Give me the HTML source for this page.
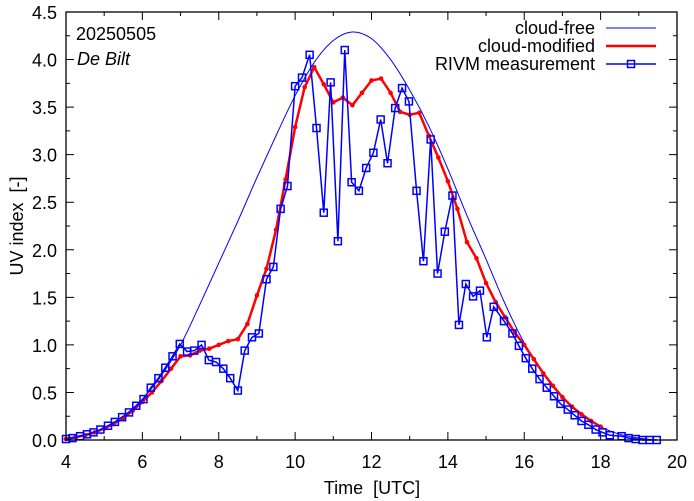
<!DOCTYPE html>
<html><head><meta charset="utf-8"><style>
body{margin:0;background:#fff}
svg{display:block;font-family:"Liberation Sans",sans-serif}
</style></head><body>
<svg id="chart" width="694" height="501" viewBox="0 0 694 501" xmlns="http://www.w3.org/2000/svg">
<g id="grid"></g>
<g id="series"></g>
<rect x="66" y="12" width="611" height="428" fill="none" stroke="#000" stroke-width="1.3"/>
<text x="76" y="40" font-size="18">20250505</text>
<text x="77" y="65" font-size="18" font-style="italic">De Bilt</text>
<text x="372" y="494" font-size="18" text-anchor="middle">Time&#160;&#160;[UTC]</text>
<text transform="translate(23,226) rotate(-90)" font-size="18" text-anchor="middle">UV index&#160;&#160;[-]</text>
<g>
<text x="595" y="34" font-size="18" text-anchor="end">cloud-free</text>
<line x1="606" y1="28" x2="656" y2="28" stroke="#0000ff" stroke-width="1"/>
<text x="595" y="52" font-size="18" text-anchor="end">cloud-modified</text>
<line x1="606" y1="46" x2="656" y2="46" stroke="#ff0000" stroke-width="2.5"/>
<text x="595" y="70" font-size="18" text-anchor="end">RIVM measurement</text>
<line x1="606" y1="64" x2="656" y2="64" stroke="#0000ff" stroke-width="1.5"/>
<rect x="627.5" y="60.5" width="7" height="7" fill="none" stroke="#0000ff" stroke-width="1.5"/>
</g>
</svg>
<script>
const clearTimes=[4,4.5,5,5.5,6,6.5,7,7.5,8,8.5,9,9.5,10,10.5,11,11.5,12,12.5,13,13.5,14,14.5,15,15.5,16,16.5,17,17.5,18,18.5,19,19.5,19.75];
const clearVals=[0.01,0.05,0.13,0.25,0.43,0.68,1.0,1.42,1.86,2.3,2.76,3.2,3.62,3.97,4.2,4.29,4.22,4.0,3.68,3.3,2.85,2.36,1.9,1.43,1.02,0.7,0.45,0.27,0.14,0.06,0.02,0.0,0.0];
const modTimes=[4,4.25,4.5,4.75,5,5.25,5.5,5.75,6,6.25,6.5,6.75,7,7.25,7.5,7.75,8,8.25,8.5,8.75,9,9.25,9.5,9.75,10,10.25,10.5,10.75,11,11.25,11.5,11.75,12,12.25,12.5,12.75,13,13.25,13.5,13.75,14,14.25,14.5,14.75,15,15.25,15.5,15.75,16,16.25,16.5,16.75,17,17.25,17.5,17.75,18];
const modVals=[0.01,0.03,0.05,0.08,0.12,0.17,0.23,0.31,0.4,0.5,0.62,0.75,0.88,0.89,0.94,0.96,1.0,1.04,1.06,1.22,1.52,1.8,2.21,2.74,3.29,3.71,3.92,3.74,3.55,3.6,3.52,3.65,3.78,3.8,3.65,3.45,3.42,3.44,3.2,2.97,2.72,2.43,2.08,1.91,1.65,1.45,1.29,1.13,1.0,0.85,0.7,0.57,0.45,0.35,0.27,0.2,0.14];
const measTimes=[4.0,4.17,4.37,4.55,4.72,4.9,5.1,5.28,5.47,5.65,5.84,6.03,6.22,6.42,6.6,6.79,6.98,7.17,7.36,7.55,7.74,7.93,8.12,8.3,8.5,8.68,8.87,9.05,9.25,9.43,9.62,9.8,10.0,10.18,10.38,10.56,10.75,10.93,11.12,11.3,11.48,11.67,11.86,12.05,12.24,12.42,12.62,12.8,12.98,13.18,13.36,13.55,13.73,13.92,14.12,14.29,14.47,14.66,14.84,15.02,15.2,15.47,15.69,15.86,16.04,16.21,16.4,16.59,16.78,16.95,17.14,17.32,17.5,17.68,17.87,18.05,18.24,18.55,18.73,18.92,19.1,19.28,19.47];
const measVals=[0.01,0.02,0.04,0.06,0.08,0.11,0.15,0.19,0.24,0.29,0.36,0.43,0.55,0.65,0.76,0.88,1.01,0.93,0.94,1.0,0.84,0.82,0.75,0.65,0.52,0.94,1.08,1.12,1.69,1.82,2.43,2.67,3.72,3.81,4.05,3.28,2.39,3.76,2.09,4.1,2.71,2.62,2.86,3.02,3.37,2.91,3.49,3.7,3.56,2.62,1.88,3.16,1.75,2.19,2.57,1.21,1.64,1.51,1.57,1.08,1.4,1.25,1.12,0.99,0.86,0.75,0.64,0.55,0.46,0.38,0.32,0.26,0.2,0.16,0.11,0.08,0.05,0.04,0.02,0.01,0.0,0.0,0.0];
const xTicks=[4,6,8,10,12,14,16,18,20];
const yTicks=[0,0.5,1,1.5,2,2.5,3,3.5,4,4.5];

const NS="http://www.w3.org/2000/svg";
const X0=66,X1=677,Y0=440,Y1=12;
function xs(t){return X0+(t-4)/16*(X1-X0);}
function ys(v){return Y0-v/4.5*(Y0-Y1);}
function mk(tag,attrs,parent){const e=document.createElementNS(NS,tag);for(const k in attrs)e.setAttribute(k,attrs[k]);parent.appendChild(e);return e;}
const grid=document.getElementById('grid'),ser=document.getElementById('series');
for(let h=4;h<=20;h++){
  const L=h%2===0?8:4;
  let t=mk('path',{d:`M${xs(h)},${Y0}v${-L}M${xs(h)},${Y1}v${L}`,stroke:'#000','stroke-width':1},grid);
  
  
}
for(let i=0;i<=18;i++){
  const v=i*0.25,L=i%2===0?8:4;
  let t=mk('path',{d:`M${X0},${ys(v)}h${L}M${X1},${ys(v)}h${-L}`,stroke:'#000','stroke-width':1},grid);
  
  
}
xTicks.forEach(h=>{
  const t=mk('text',{x:xs(h),y:468,'font-size':18,'text-anchor':'middle'},grid);t.textContent=h;
  
  
});
yTicks.forEach(v=>{
  const t=mk('text',{x:57,y:ys(v)+7,'font-size':18,'text-anchor':'end'},grid);t.textContent=v.toFixed(1);
  
  
});
const P=clearTimes.map((t,i)=>[xs(t),ys(clearVals[i])]);
let d=`M${P[0][0]},${P[0][1]}`;
for(let i=0;i<P.length-1;i++){
  const p0=P[Math.max(0,i-1)],p1=P[i],p2=P[i+1],p3=P[Math.min(P.length-1,i+2)];
  d+=` C${p1[0]+(p2[0]-p0[0])/6},${p1[1]+(p2[1]-p0[1])/6} ${p2[0]-(p3[0]-p1[0])/6},${p2[1]-(p3[1]-p1[1])/6} ${p2[0]},${p2[1]}`;
}
const cf=mk('path',{d:d,fill:'none',stroke:'#0000ff','stroke-width':1},ser);


const cm=mk('polyline',{points:modTimes.map((t,i)=>xs(t)+','+ys(modVals[i])).join(' '),fill:'none',stroke:'#ff0000','stroke-width':2.5},ser);


modTimes.forEach((t,i)=>{
  const c=mk('circle',{cx:xs(t),cy:ys(modVals[i]),r:2.3,fill:'#ff0000'},ser);
  
  
});
const ml=mk('polyline',{points:measTimes.map((t,i)=>xs(t)+','+ys(measVals[i])).join(' '),fill:'none',stroke:'#0000ff','stroke-width':1.5},ser);


measTimes.forEach((t,i)=>{
  const r=mk('rect',{x:xs(t)-3.5,y:ys(measVals[i])-3.5,width:7,height:7,fill:'none',stroke:'#0000ff','stroke-width':1.5},ser);
  
  
});
</script>
</body></html>
